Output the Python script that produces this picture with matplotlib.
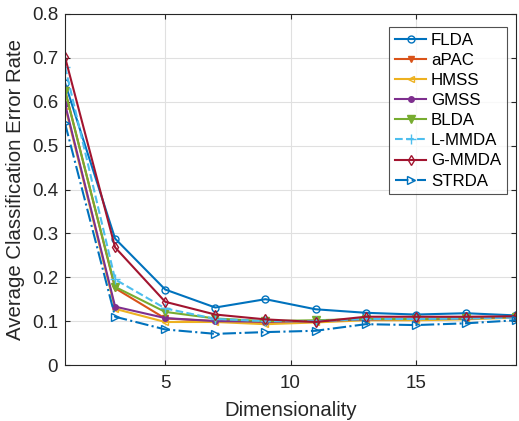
import matplotlib.pyplot as plt
import numpy as np

plt.rcParams['font.family'] = ['Liberation Sans', 'DejaVu Sans']

dims = [1, 3, 5, 7, 9, 11, 13, 15, 17, 19]

flda = [0.643, 0.288, 0.172, 0.131, 0.150, 0.127, 0.119, 0.115, 0.118, 0.113]
apac = [0.627, 0.175, 0.106, 0.100, 0.098, 0.100, 0.104, 0.104, 0.106, 0.109]
hmss = [0.590, 0.128, 0.098, 0.098, 0.093, 0.097, 0.102, 0.102, 0.104, 0.108]
gmss = [0.595, 0.133, 0.107, 0.100, 0.099, 0.100, 0.104, 0.105, 0.106, 0.110]
blda = [0.625, 0.178, 0.121, 0.106, 0.100, 0.102, 0.105, 0.105, 0.107, 0.110]
lmmda = [0.680, 0.195, 0.129, 0.105, 0.100, 0.100, 0.105, 0.105, 0.106, 0.108]
gmmda = [0.702, 0.268, 0.144, 0.115, 0.104, 0.098, 0.110, 0.110, 0.110, 0.111]
strda = [0.551, 0.110, 0.081, 0.071, 0.075, 0.078, 0.093, 0.091, 0.095, 0.102]

fig = plt.figure(figsize=(5.19, 4.21), dpi=100)
ax = fig.add_axes([65/519, 1 - 365/421, (516 - 65)/519, (365 - 14)/421])

ms = 5
ax.plot(dims, flda, '-o', color='#0072BD', lw=1.5, ms=ms, mfc='none', label='FLDA')
ax.plot(dims, apac, '-v', color='#D95319', lw=1.5, ms=ms, label='aPAC')
ax.plot(dims, hmss, '-<', color='#EDB120', lw=1.5, ms=ms, mfc='none', label='HMSS')
ax.plot(dims, gmss, '-o', color='#7E2F8E', lw=1.5, ms=4, label='GMSS')
ax.plot(dims, blda, '-v', color='#77AC30', lw=1.5, ms=6, label='BLDA')
ax.plot(dims, lmmda, '--+', color='#4DBEEE', lw=1.5, ms=7, label='L-MMDA')
ax.plot(dims, gmmda, '-d', color='#A2142F', lw=1.5, ms=ms, mfc='none', label='G-MMDA')
ax.plot(dims, strda, '-.>', color='#0072BD', lw=1.5, ms=6, mfc='none', label='STRDA')

ax.set_xlim(1, 19)
ax.set_ylim(0, 0.8)
ax.set_xticks([5, 10, 15])
ax.set_yticks(np.arange(0, 0.81, 0.1))
ax.set_yticklabels(['0', '0.1', '0.2', '0.3', '0.4', '0.5', '0.6', '0.7', '0.8'])
ax.grid(True, color='#e0e0e0', lw=0.8)
ax.set_axisbelow(True)
ax.tick_params(direction='in', top=True, right=True, labelsize=13.5, colors='#262626')
ax.tick_params(axis='x', pad=7.5)
ax.tick_params(axis='y', pad=5)
for s in ax.spines.values():
    s.set_color('#262626')
ax.set_xlabel('Dimensionality', fontsize=14.7, color='#262626', labelpad=6)
ax.set_ylabel('Average Classification Error Rate', fontsize=14.7, color='#262626', labelpad=5)

leg = ax.legend(loc='upper right', bbox_to_anchor=(507/519, 1 - 27/421),
                bbox_transform=fig.transFigure, borderaxespad=0,
                fontsize=12.2, fancybox=False, edgecolor='#262626',
                handlelength=1.85, borderpad=0.35, labelspacing=0.3, handletextpad=0.28)
leg.get_frame().set_linewidth(0.8)

fig.savefig('out.png', dpi=100)
